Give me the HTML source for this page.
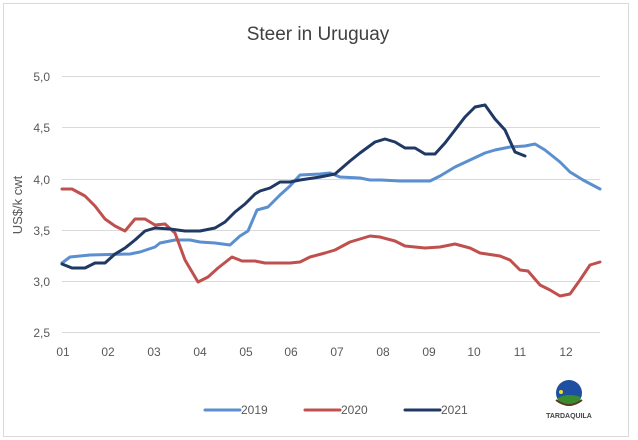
<!DOCTYPE html>
<html><head><meta charset="utf-8"><style>
body{margin:0;background:#fff;width:638px;height:440px;overflow:hidden}
svg{display:block;font-family:"Liberation Sans",sans-serif}
</style></head><body>
<svg width="638" height="440" viewBox="0 0 638 440">
<rect x="3.5" y="3.5" width="625" height="433" fill="#fff" stroke="#d9d9d9"/>
<text x="318" y="40" text-anchor="middle" font-size="19" fill="#404040">Steer in Uruguay</text>
<g stroke="#d9d9d9" stroke-width="1">
<line x1="62" x2="600" y1="76.5" y2="76.5"/><line x1="62" x2="600" y1="127.5" y2="127.5"/>
<line x1="62" x2="600" y1="179.5" y2="179.5"/><line x1="62" x2="600" y1="230.5" y2="230.5"/>
<line x1="62" x2="600" y1="281.5" y2="281.5"/><line x1="62" x2="600" y1="332.5" y2="332.5"/>
</g>
<g font-size="12" fill="#595959" text-anchor="end">
<text x="50" y="81">5,0</text><text x="50" y="132">4,5</text><text x="50" y="184">4,0</text>
<text x="50" y="235">3,5</text><text x="50" y="286">3,0</text><text x="50" y="337">2,5</text>
</g>
<g font-size="12" fill="#595959" text-anchor="middle">
<text x="63" y="356">01</text><text x="108" y="356">02</text><text x="154" y="356">03</text>
<text x="200" y="356">04</text><text x="246" y="356">05</text><text x="291" y="356">06</text>
<text x="337" y="356">07</text><text x="383" y="356">08</text><text x="429" y="356">09</text>
<text x="474" y="356">10</text><text x="520" y="356">11</text><text x="566" y="356">12</text>
</g>
<text transform="translate(22,205) rotate(-90)" font-size="13" fill="#595959" text-anchor="middle">US$/k cwt</text>
<g fill="none" stroke-width="3" stroke-linejoin="round" stroke-linecap="round">
<polyline stroke="#5b8fd0" points="62,263 70,257 90,255 130,254 140,252 155,247 160,243 175,240 190,240 200,242 215,243 230,245 240,236 248,231 257,210 268,207 280,195 290,186 300,175 320,174 330,173 340,177 360,178 370,180 380,180 400,181 430,181 440,176 455,167 470,160 485,153 495,150 510,147 525,146 535,144 545,150 560,162 570,172 583,180 600,189"/>
<polyline stroke="#c0504d" points="62,189 72,189 85,196 95,206 105,219 115,226 125,231 135,219 145,219 155,225 165,224 175,233 185,260 198,282 208,277 218,268 232,257 242,261 255,261 265,263 290,263 300,262 310,257 325,253 335,250 350,242 370,236 380,237 395,241 405,246 425,248 440,247 455,244 470,248 480,253 500,256 510,260 520,270 528,271 540,285 550,290 560,296 570,294 580,280 590,265 600,262"/>
<polyline stroke="#1f3864" points="62,264 72,268 85,268 95,263 105,263 115,254 125,248 135,240 145,231 155,228 170,229 185,231 200,231 215,228 225,222 235,212 245,204 255,194 260,191 270,188 280,182 290,182 300,180 320,177 335,174 350,161 360,153 375,142 385,139 395,142 405,148 415,148 425,154 435,154 445,143 455,130 465,117 475,107 485,105 495,119 505,130 515,152 525,156"/>
</g>
<g stroke-width="3" stroke-linecap="round">
<line x1="205" x2="240" y1="410" y2="410" stroke="#5b8fd0"/>
<line x1="305" x2="340" y1="410" y2="410" stroke="#c0504d"/>
<line x1="405" x2="440" y1="410" y2="410" stroke="#1f3864"/>
</g>
<g font-size="12" fill="#595959">
<text x="241" y="414">2019</text><text x="341" y="414">2020</text><text x="441" y="414">2021</text>
</g>
<defs><clipPath id="c"><circle cx="569" cy="393" r="13"/></clipPath></defs>
<g clip-path="url(#c)">
<rect x="555" y="379" width="28" height="28" fill="#1e4fa0"/>
<ellipse cx="570" cy="404" rx="16" ry="9" fill="#3a8a2e"/>
</g>
<circle cx="561" cy="392" r="2" fill="#e8e020"/>
<path d="M556 400 Q569 410 582 400" stroke="#5a3a20" stroke-width="2" fill="none"/>
<text x="569" y="418" font-size="7" font-weight="bold" fill="#444" text-anchor="middle">TARDAQUILA</text>
</svg>
</body></html>
